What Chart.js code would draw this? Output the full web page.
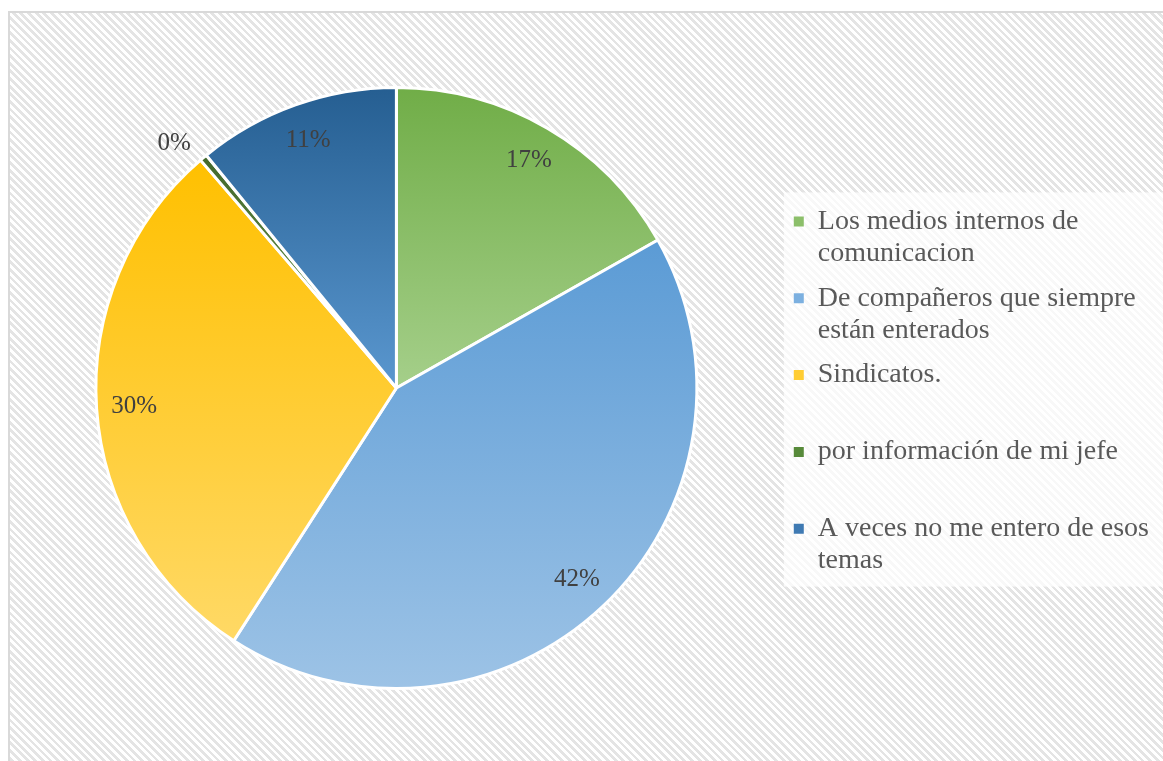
<!DOCTYPE html>
<html>
<head>
<meta charset="utf-8">
<script src="https://cdn.jsdelivr.net/npm/chart.js@4.4.1/dist/chart.umd.min.js"></script>
<style>
  html, body { margin: 0; padding: 0; background: #fff; }
  #frame {
    position: absolute; left: 8px; top: 11px; width: 1170px; height: 770px;
    border-left: 2px solid #d9d9d9; border-top: 2px solid #d9d9d9;
    background: repeating-linear-gradient(45deg, #e4e4e4 0px 2.7px, #ffffff 2.7px 5.4px);
  }
  #wrap { position: absolute; left: 0; top: 0; width: 1163px; height: 761px; }
</style>
</head>
<body>
<div id="frame"></div>
<div id="wrap"><canvas id="myChart" width="1163" height="761"></canvas></div>
<script>
'use strict';

// categories (legend text, already split into lines like the original)
let categories = [
  ['Los medios internos de', 'comunicacion'],
  ['De compañeros que siempre', 'están enterados'],
  ['Sindicatos.', ''],
  ['por información de mi jefe', ''],
  ['A veces no me entero de esos', 'temas']
];
// share of answers, in percent
let shares = [16.8, 42.3, 29.6, 0.4, 10.9];

// gradient colours, top of slice -> bottom of slice
let topColors = ['#70ad47', '#5b9bd5', '#ffc000', '#43682b', '#255e91'];
let bottomColors = ['#a5cf8a', '#9dc3e6', '#ffd966', '#6e9b52', '#5a97cf'];
let legendColors = ['#8cbf6a', '#7cb0e0', '#ffcd33', '#578a3a', '#3f7ab3'];

// vertical gradient that covers just the slice
function sliceFill(c) {
  let i = c.dataIndex;
  let chart = c.chart;
  let area = chart.chartArea;
  if (!area) return topColors[i];
  let cx = (area.left + area.right) / 2;
  let cy = (area.top + area.bottom) / 2;
  let r = Math.min(area.width, area.height) / 2;
  let total = shares.reduce((a, b) => a + b, 0);
  let before = 0;
  for (let k = 0; k < i; k++) before += shares[k];
  let a0 = -Math.PI / 2 + before / total * 2 * Math.PI;
  let a1 = a0 + shares[i] / total * 2 * Math.PI;
  let ys = [cy, cy + r * Math.sin(a0), cy + r * Math.sin(a1)];
  [-Math.PI / 2, Math.PI / 2, 3 * Math.PI / 2].forEach(a => {
    if (a > a0 && a < a1) ys.push(cy + r * Math.sin(a));
  });
  let g = chart.ctx.createLinearGradient(0, Math.min(...ys), 0, Math.max(...ys));
  g.addColorStop(0, topColors[i]);
  g.addColorStop(1, bottomColors[i]);
  return g;
}

// whitish box behind the legend
const legendBack = {
  id: 'legendBack',
  beforeDraw(chart) {
    let lg = chart.legend;
    if (!lg || !lg.legendHitBoxes || !lg.legendHitBoxes.length) return;
    let boxes = lg.legendHitBoxes;
    let first = boxes[0];
    let last = boxes[boxes.length - 1];
    let ctx = chart.ctx;
    ctx.save();
    ctx.fillStyle = 'rgba(255,255,255,0.72)';
    ctx.fillRect(lg.left + 3, first.top - 15, chart.width - lg.left, last.top + last.height - first.top + 23);
    ctx.restore();
  }
};

// percentage labels on the slices
const pctLabels = {
  id: 'pctLabels',
  afterDatasetsDraw(chart) {
    let ctx = chart.ctx;
    let meta = chart.getDatasetMeta(0);
    let total = shares.reduce((a, b) => a + b, 0);
    ctx.save();
    ctx.font = '25px "Liberation Serif", "Times New Roman", serif';
    ctx.fillStyle = '#404040';
    ctx.textAlign = 'center';
    ctx.textBaseline = 'middle';
    meta.data.forEach((arc, i) => {
      let p = shares[i] / total * 100;
      let mid = (arc.startAngle + arc.endAngle) / 2;
      let dist = p < 2 ? arc.outerRadius * 1.1 : arc.outerRadius * 0.875;
      if (p < 2) mid -= 0.04;
      let x = arc.x + Math.cos(mid) * dist;
      let y = arc.y + Math.sin(mid) * dist;
      ctx.fillText(Math.round(p) + '%', x, y);
    });
    ctx.restore();
  }
};

const ctx = document.getElementById('myChart').getContext('2d');
const myChart = new Chart(ctx, {
  type: 'pie',
  data: {
    labels: categories,
    datasets: [{
      data: shares,
      backgroundColor: sliceFill,
      borderColor: '#ffffff',
      borderWidth: 3
    }]
  },
  options: {
    responsive: false,
    animation: false,
    layout: { padding: { left: 12, top: 86, bottom: 71, right: 4 } },
    plugins: {
      tooltip: { enabled: false },
      legend: {
        position: 'right',
        title: { display: true, text: '', font: { size: 10, lineHeight: 1 }, padding: 0 },
        labels: {
          boxWidth: 10,
          boxHeight: 10,
          padding: 13,
          color: '#595959',
          font: { family: '"Liberation Serif", "Times New Roman", serif', size: 28, lineHeight: 1.14 },
          generateLabels(chart) {
            return categories.map((text, i) => ({
              text: text,
              fillStyle: legendColors[i],
              strokeStyle: legendColors[i],
              fontColor: '#595959',
              lineWidth: 0,
              hidden: false,
              index: i
            }));
          }
        }
      }
    }
  },
  plugins: [legendBack, pctLabels]
});
</script>
</body>
</html>
